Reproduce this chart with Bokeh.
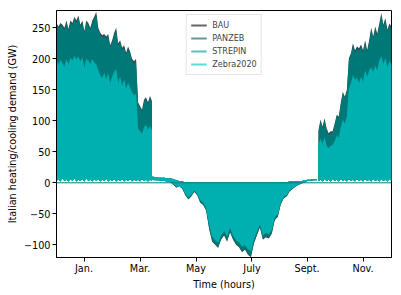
from bokeh.plotting import figure
from bokeh.models import FixedTicker, Span, Legend, LegendItem, Range1d
from bokeh.embed import file_html
from bokeh.resources import INLINE

series_names = ["BAU", "PANZEB", "STREPIN", "Zebra2020"]

# ---- heating season 1 (Jan -> mid April), hourly peak envelope per ~2 days ----
hours_w1 = list(range(0, 2500, 52))
bau_w1 = [258, 252, 258, 255, 250, 262, 248, 262, 258, 268, 262, 270, 255, 262, 245, 262, 258, 250, 262, 268,
          276, 250, 242, 238, 240, 236, 240, 222, 230, 242, 250, 225, 230, 218, 222, 210, 220, 212, 200, 196,
          200, 130, 124, 118, 134, 138, 130, 140, 132]
panzeb_w1 = [255, 248, 254, 252, 246, 258, 245, 258, 254, 264, 258, 266, 251, 258, 242, 258, 254, 247, 258, 264,
             271, 246, 238, 235, 236, 232, 236, 219, 226, 238, 246, 221, 226, 214, 218, 207, 216, 208, 196, 192,
             196, 127, 121, 115, 130, 134, 127, 136, 129]
strepin_w1 = [198, 192, 199, 194, 188, 200, 192, 202, 198, 205, 200, 204, 197, 202, 187, 200, 198, 192, 200, 194,
              192, 182, 174, 170, 178, 168, 177, 162, 172, 180, 184, 162, 172, 157, 167, 152, 162, 154, 147, 142,
              144, 88, 84, 80, 90, 94, 87, 92, 86]
zebra_w1 = [196, 190, 197, 192, 186, 198, 190, 200, 196, 203, 198, 202, 195, 200, 185, 198, 196, 190, 198, 192,
            190, 180, 172, 168, 176, 166, 175, 160, 170, 178, 182, 160, 170, 155, 165, 150, 160, 152, 145, 140,
            142, 86, 82, 78, 88, 92, 85, 90, 84]
night_min_w1 = [3, 6, 2, 7, 3, 5, 2, 6, 3, 7, 2, 5, 3, 6, 2, 7, 3, 5, 2, 6, 3, 6, 2, 5, 3, 7, 2, 5, 3, 6,
                2, 5, 3, 6, 2, 5, 3, 6, 2, 5, 3, 5, 2, 6, 3, 5, 2, 5, 3]

# ---- mid season (mid April -> mid October): small heating + summer cooling ----
hours_mid = list(range(2510, 6830, 78))
offseason_peak = [10, 9, 8, 8, 8, 7, 7,
                  6, 4, 3, 2, 1, 1, 0, 0, 0,
                  0, 0, 0, 0, 0, 0, 0, 0, 0, 0,
                  0, 0, 0, 0, 0, 0, 0, 0, 0, 0,
                  0, 0, 0, 0, 0, 0, 0, 1, 1, 1,
                  2, 2, 2, 3, 3, 4, 5, 5, 6, 6]
bau_cool = [5, 4, 4, 3, 3, 2, 1,
            -3, -8, -5, -10, -20, -27, -22, -15, -20,
            -32, -36, -45, -75, -95, -100, -105, -92, -85, -95,
            -80, -92, -100, -104, -112, -108, -116, -120, -98, -85,
            -72, -92, -88, -90, -82, -60, -55, -35, -25, -22,
            -14, -10, -6, -3, -1, 1, 3, 3, 4, 4]
panzeb_cool = [5, 4, 4, 3, 3, 2, 1,
               -3, -7, -5, -9, -19, -26, -21, -14, -19,
               -31, -35, -44, -73, -93, -98, -103, -90, -83, -93,
               -78, -90, -98, -102, -110, -106, -114, -118, -96, -84,
               -71, -90, -86, -88, -80, -59, -54, -34, -24, -21,
               -13, -9, -6, -3, -1, 1, 3, 3, 4, 4]
strepin_cool = [4, 4, 4, 3, 3, 2, 1,
                -2, -6, -4, -8, -18, -24, -20, -13, -18,
                -28, -32, -41, -67, -87, -93, -97, -85, -78, -87,
                -73, -85, -93, -96, -103, -101, -107, -111, -91, -79,
                -67, -85, -81, -83, -76, -55, -51, -32, -23, -20,
                -12, -8, -5, -2, -1, 1, 3, 3, 4, 4]
zebra_cool = [4, 4, 4, 3, 3, 2, 1,
              -2, -6, -4, -8, -17, -23, -19, -12, -17,
              -27, -31, -40, -66, -86, -92, -96, -84, -77, -86,
              -72, -84, -92, -95, -102, -100, -106, -110, -90, -78,
              -66, -84, -80, -82, -75, -54, -50, -31, -22, -19,
              -12, -8, -5, -2, -1, 1, 3, 3, 4, 4]

# ---- heating season 2 (mid October -> Dec) ----
hours_w2 = list(range(6851, 8760, 53))
bau_w2 = [85, 102, 91, 104, 88, 80, 83, 83, 96, 110, 107, 129, 147, 139, 150, 201, 209, 225, 214, 220,
          217, 223, 214, 230, 214, 230, 250, 236, 252, 241, 257, 274, 255, 266, 247, 257, 252]
panzeb_w2 = [82, 99, 88, 101, 85, 77, 80, 80, 93, 107, 104, 126, 144, 136, 147, 197, 205, 221, 210, 216,
             213, 219, 210, 226, 210, 226, 246, 232, 248, 237, 253, 270, 251, 262, 243, 253, 248]
strepin_w2 = [62, 72, 64, 74, 60, 57, 60, 62, 68, 77, 74, 90, 102, 97, 107, 152, 162, 174, 167, 170,
              162, 172, 164, 182, 172, 182, 187, 180, 190, 182, 198, 205, 192, 202, 187, 197, 192]
zebra_w2 = [60, 70, 62, 72, 58, 55, 58, 60, 66, 75, 72, 88, 100, 95, 105, 150, 160, 172, 165, 168,
            160, 170, 162, 180, 170, 180, 185, 178, 188, 180, 196, 203, 190, 200, 185, 195, 190]
night_min_w2 = [3, 5, 2, 6, 3, 5, 2, 6, 3, 5, 2, 6, 3, 5, 2, 6, 3, 5, 2, 6,
                3, 5, 2, 6, 3, 5, 2, 6, 3, 5, 2, 6, 3, 5, 2, 6, 3]

tick_hours = [720, 2184, 3648, 5112, 6552, 8016]
tick_labels = ["Jan.", "Mar.", "May", "July", "Sept.", "Nov."]
y_ticks = [-100, -50, 0, 50, 100, 150, 200, 250]

fill_colors = ["#2f4f4f", "#007878", "#009c9c", "#00b0b0"]
legend_colors = ["#666666", "#5f9999", "#5fbfbf", "#5fd9d9"]

winter1 = [bau_w1, panzeb_w1, strepin_w1, zebra_w1]
mid = [bau_cool, panzeb_cool, strepin_cool, zebra_cool]
winter2 = [bau_w2, panzeb_w2, strepin_w2, zebra_w2]

FONT = "DejaVu Sans"

p = figure(frame_width=335, frame_height=247, output_backend="svg", toolbar_location=None,
           x_range=Range1d(0, 8760), y_range=Range1d(-120.5, 278),
           min_border_left=56, min_border_right=2, min_border_top=10, min_border_bottom=0)

for i in range(4):
    c = fill_colors[i]
    p.varea(x=hours_w1, y1=night_min_w1, y2=winter1[i], fill_color=c)
    p.varea(x=hours_mid, y1=mid[i], y2=offseason_peak, fill_color=c)
    p.varea(x=hours_w2, y1=night_min_w2, y2=winter2[i], fill_color=c)

p.add_layout(Span(location=0, dimension="width", line_color="#007f7f", line_width=1))

nan = float("nan")
items = []
for name, lc in zip(series_names, legend_colors):
    r = p.line(x=[nan], y=[nan], line_color=lc, line_width=2)
    items.append(LegendItem(label=name, renderers=[r]))

legend = Legend(items=items, location="top_center",
                label_text_font=FONT, label_text_font_size="8.1px",
                glyph_width=16, glyph_height=12, label_height=12, label_standoff=6,
                spacing=1, padding=4, margin=4,
                border_line_color="#cccccc", border_line_width=1,
                background_fill_alpha=0.8)
p.add_layout(legend)

p.xgrid.visible = False
p.ygrid.visible = False
p.outline_line_color = "black"
p.outline_line_alpha = 1

p.xaxis.ticker = FixedTicker(ticks=tick_hours)
p.xaxis.major_label_overrides = {h: t for h, t in zip(tick_hours, tick_labels)}
p.yaxis.ticker = FixedTicker(ticks=y_ticks)
p.yaxis.major_label_overrides = {v: ("\u2212" + str(-v) if v < 0 else str(v)) for v in y_ticks}

p.xaxis.axis_label = "Time (hours)"
p.yaxis.axis_label = "Italian heating/cooling demand (GW)"
for ax in (p.xaxis, p.yaxis):
    ax.axis_label_text_font = FONT
    ax.axis_label_text_font_size = "9.7px"
    ax.axis_label_text_font_style = "normal"
    ax.axis_label_text_color = "black"
    ax.major_label_text_font = FONT
    ax.major_label_text_font_size = "9.7px"
    ax.major_label_text_color = "black"
    ax.minor_tick_line_color = None
    ax.major_tick_in = 0
    ax.major_tick_out = 4
    ax.major_tick_line_color = "black"
    ax.axis_line_color = "black"
    ax.major_label_standoff = 2
    ax.axis_label_standoff = 3
p.xaxis.major_label_standoff = 1
p.xaxis.axis_label_standoff = 2
p.yaxis.axis_label_standoff = 3

open("out.html", "w").write(file_html(p, INLINE))
